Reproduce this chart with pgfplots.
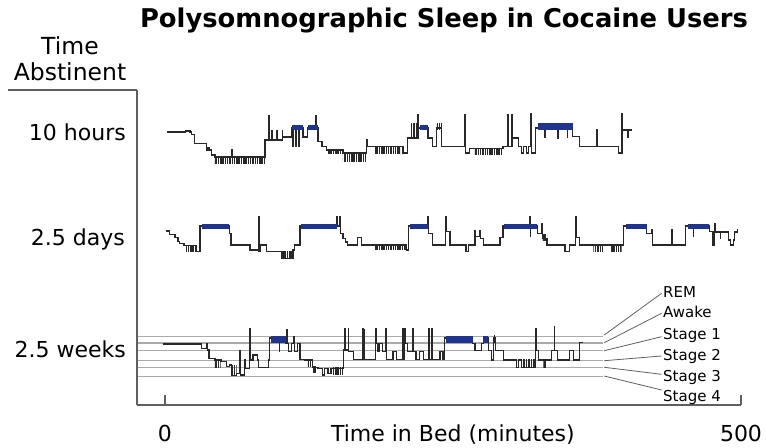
\documentclass[border=0pt]{standalone}
\usepackage{fontspec}
\setmainfont{DejaVu Sans}
\usepackage{pgfplots}
\pgfplotsset{compat=1.18}
\usetikzlibrary{patterns.meta}
\definecolor{remblue}{RGB}{30,52,142}
\definecolor{tracec}{RGB}{40,40,40}
\definecolor{axisgray}{RGB}{95,95,95}
\definecolor{stagegray}{RGB}{170,170,170}
\newcommand{\bigf}{\fontsize{22bp}{24bp}\selectfont}
\newcommand{\smallf}{\fontsize{15bp}{16bp}\selectfont}
\begin{document}
\begin{tikzpicture}
\useasboundingbox (0,0) rectangle (766bp,448bp);
\begin{axis}[
  at={(137bp,43bp)}, anchor=south west,
  scale only axis, width=604bp, height=315bp,
  xmin=-24.3, xmax=500, ymin=-405, ymax=-90,
  axis x line=bottom, axis y line=left,
  axis line style={-, axisgray, line width=1.4bp},
  xtick={0,500}, ytick=\empty,
  tick align=inside, major tick length=10bp,
  xtick style={axisgray, line width=1.1bp},
  xticklabel style={font=\bigf, anchor=base, yshift=-36bp, inner sep=0pt},
  /pgf/number format/assume math mode=true,
  xlabel={Time in Bed (minutes)},
  xlabel style={at={(axis description cs:0.523,0)}, anchor=base, yshift=-36bp, font=\bigf, inner sep=0pt},
  clip=false,
  hyp/.style={const plot, tracec, line width=1.05bp, mark=none},
  remb/.style={draw=none, fill=remblue, mark=none},
  combst/.style={draw=none, mark=none, pattern={Lines[angle=90,distance=2.3bp,line width=1.45bp]}, pattern color=tracec},
  stline/.style={stagegray, line width=1.1bp, mark=none},
]
% stage reference lines (2.5 weeks)
\addplot[stline] coordinates {(-23.4,-336.5) (380.2,-336.5)};
\addplot[stline] coordinates {(-23.4,-343) (380.2,-343)};
\addplot[stline] coordinates {(-23.4,-350.7) (380.2,-350.7)};
\addplot[stline] coordinates {(-23.4,-360.7) (380.2,-360.7)};
\addplot[stline] coordinates {(-23.4,-367.5) (380.2,-367.5)};
\addplot[stline] coordinates {(-23.4,-376.5) (380.2,-376.5)};

% ---------- 10 hours ----------
\addplot[hyp] coordinates {(1.5,-132) (17.4,-131) (21.7,-132) (23.4,-134.3) (26,-143.3) (36.2,-150) (37.3,-148) (38.2,-150) (40.5,-155) (43.4,-157) (57.9,-149.3) (58.5,-157) (86.8,-140) (90.3,-116) (90.8,-140) (92.9,-131) (93.4,-140) (97.2,-131) (97.7,-140) (101.6,-131) (102.1,-137) (110,-128) (111.1,-146.7) (111.6,-128) (113.7,-146.7) (114.2,-128) (116.3,-146.7) (116.8,-128) (119.8,-137) (124.1,-128) (131.1,-116) (131.6,-128) (132.8,-141.7) (136.3,-146.7) (140.6,-150) (154.5,-153) (175.3,-140) (176,-146.7) (206.6,-153) (210.9,-138) (219.6,-115) (220,-128) (228.3,-138) (232.6,-146.7) (236,-128) (240.4,-146.7) (260.4,-115) (261,-153) (264.7,-148.3) (293.4,-146.7) (297.7,-115) (298.2,-146.7) (301.2,-115) (301.7,-138) (307,-146.7) (309.5,-153) (310.8,-146.7) (314,-153) (315.7,-146.7) (317.7,-114) (318.2,-153) (322,-128) (329.8,-137) (330.4,-128) (341.1,-138) (341.8,-128) (349,-137) (349.6,-128) (354.1,-136.7) (360.2,-146.7) (375,-130) (375.5,-146.7) (394,-153) (396.7,-114) (397.2,-130) (401.9,-137) (402.4,-130) (405.4,-130)};
\addplot[combst] coordinates {(43.4,-157) (86.8,-157) (86.8,-163.3) (43.4,-163.3)};
\addplot[combst] coordinates {(141.5,-150) (154.5,-150) (154.5,-153.3) (141.5,-153.3)};
\addplot[combst] coordinates {(154.5,-153) (175.3,-153) (175.3,-161.7) (154.5,-161.7)};
\addplot[combst] coordinates {(182.3,-146.7) (204,-146.7) (204,-153.3) (182.3,-153.3)};
\addplot[combst] coordinates {(212.7,-123) (219.5,-123) (219.5,-138) (212.7,-138)};
\addplot[combst] coordinates {(236,-123) (240.4,-123) (240.4,-130) (236,-130)};
\addplot[combst] coordinates {(269,-148) (293.4,-148) (293.4,-155) (269,-155)};
\addplot[remb] coordinates {(110,-125) (119.8,-125) (119.8,-130) (110,-130)};
\addplot[remb] coordinates {(124.1,-125) (132.8,-125) (132.8,-130) (124.1,-130)};
\addplot[remb] coordinates {(221.4,-125) (228.3,-125) (228.3,-130) (221.4,-130)};
\addplot[remb] coordinates {(323.8,-123) (354.1,-123) (354.1,-130) (323.8,-130)};

% ---------- 2.5 days ----------
\addplot[hyp] coordinates {(0.9,-231) (4.3,-234.3) (8.7,-237.7) (11.3,-241.7) (12.2,-243.3) (16.5,-245.7) (27.5,-251.7) (30.4,-226) (55.6,-233.3) (57.3,-245) (73.8,-250) (81,-216.7) (81.6,-251.7) (83.3,-245) (88.3,-251.7) (101.3,-258.3) (111.1,-250) (112.8,-245) (117.2,-226) (149.1,-216.7) (149.8,-226) (151.3,-216.7) (152,-233.3) (154.5,-238.3) (156.3,-242) (158.1,-245) (167.5,-237.7) (170.7,-245) (209.9,-250) (211.2,-226) (228,-216.7) (228.6,-233.3) (232.6,-245) (243.5,-216.7) (244.2,-231.7) (247.4,-245) (261.3,-251.7) (263.5,-245) (269.1,-231) (269.6,-236.7) (273.4,-231) (274,-238.3) (276.5,-245) (290.8,-237.7) (293.4,-226) (316.8,-216.7) (317.2,-236.7) (317.6,-226) (323.2,-233.3) (327,-223.3) (327.5,-238.3) (331.6,-245) (347.2,-251.7) (351,-245) (356.7,-216.7) (357.2,-237.7) (360.2,-245) (398.1,-226) (418.3,-233.3) (422.5,-230) (423,-245) (439.8,-230) (440.4,-245) (452.2,-226) (458.6,-236.7) (459.1,-226) (472.3,-231.7) (475.7,-245) (477.4,-223.3) (478,-232) (482,-238.3) (482.5,-232) (489.5,-240) (490.5,-245) (493.5,-240) (494,-232) (496.8,-229.3)};
\addplot[combst] coordinates {(17.4,-245.7) (27.5,-245.7) (27.5,-251.7) (17.4,-251.7)};
\addplot[combst] coordinates {(101.3,-251.7) (111.1,-251.7) (111.1,-258.3) (101.3,-258.3)};
\addplot[combst] coordinates {(182.3,-245) (209.9,-245) (209.9,-250) (182.3,-250)};
\addplot[combst] coordinates {(328,-235) (331.6,-235) (331.6,-240.3) (328,-240.3)};
\addplot[combst] coordinates {(371.8,-245) (380.5,-245) (380.5,-251.7) (371.8,-251.7)};
\addplot[combst] coordinates {(386.3,-245) (396.4,-245) (396.4,-251.7) (386.3,-251.7)};
\addplot[remb] coordinates {(31.8,-224) (55.6,-224) (55.6,-229.3) (31.8,-229.3)};
\addplot[remb] coordinates {(118.1,-224) (149.1,-224) (149.1,-229.3) (118.1,-229.3)};
\addplot[remb] coordinates {(212.7,-224) (228,-224) (228,-229.3) (212.7,-229.3)};
\addplot[remb] coordinates {(294.3,-224) (323.2,-224) (323.2,-229.3) (294.3,-229.3)};
\addplot[remb] coordinates {(399.8,-224) (418.3,-224) (418.3,-229.3) (399.8,-229.3)};
\addplot[remb] coordinates {(453.6,-224) (472.3,-224) (472.3,-229.3) (453.6,-229.3)};

% ---------- 2.5 weeks ----------
\addplot[hyp] coordinates {(-2,-344) (31.9,-348.3) (36.2,-343.3) (36.8,-350) (38.2,-358.3) (43.4,-360) (48.6,-361.7) (53.6,-366.7) (56.4,-365) (57.9,-375.7) (62.2,-373.3) (65.1,-350.7) (65.6,-375) (69.4,-360) (70,-368.3) (73.2,-328.3) (73.8,-341.7) (74.6,-360) (76.4,-355) (80.7,-360) (81,-367.3) (89.7,-360) (91.1,-338) (99.2,-351.7) (99.8,-338) (105,-343.3) (105.6,-330) (106.2,-343.3) (107.6,-351.7) (110,-343.3) (112,-336.7) (112.5,-351.7) (115.4,-343.3) (117.2,-359.3) (121.5,-360) (128.2,-367.3) (132.8,-368.3) (137.1,-375) (138.5,-368.3) (141.5,-373.3) (144.1,-368.3) (154.8,-350) (156.2,-328.3) (156.8,-350) (159.1,-328.3) (159.7,-351.7) (163.4,-359.3) (171.6,-328.3) (172.2,-359.3) (172.8,-330) (173.4,-359.3) (183.1,-328.3) (183.7,-343.3) (184.9,-351.7) (186.6,-343.3) (189.2,-351.7) (191.8,-328.3) (192.4,-359.3) (197.9,-351.7) (201.3,-359.3) (206.3,-328.3) (206.9,-359.3) (208.3,-328.3) (208.9,-343.3) (210.9,-351.7) (215,-328.3) (215.6,-351.7) (217.9,-359.3) (221.3,-351.7) (224,-359.3) (228.6,-328.3) (229.2,-359.3) (231.5,-328.3) (232.1,-359.3) (238.7,-351.7) (241.3,-359.3) (243,-338) (267.1,-343.3) (269.1,-350.7) (274.9,-343.3) (276.3,-338) (280.6,-350.7) (283.6,-360) (285,-338) (287.3,-350.7) (293.7,-360) (305.3,-367.3) (307,-360) (309.5,-367.3) (311,-360) (312,-367.3) (321.2,-360) (322,-328.3) (322.6,-350.7) (324,-360) (335.7,-350.7) (337.7,-326.7) (338.3,-350.7) (340.5,-360) (351.5,-350.7) (354.4,-360) (360.2,-342.7) (363.1,-342.7)};
\addplot[combst] coordinates {(43.4,-360) (48.3,-360) (48.3,-367.3) (43.4,-367.3)};
\addplot[combst] coordinates {(57.9,-365.7) (62.2,-365.7) (62.2,-375.7) (57.9,-375.7)};
\addplot[combst] coordinates {(124.1,-360) (128.2,-360) (128.2,-367) (124.1,-367)};
\addplot[combst] coordinates {(128.5,-367) (131.1,-367) (131.1,-373) (128.5,-373)};
\addplot[combst] coordinates {(145.8,-368) (154.8,-368) (154.8,-375) (145.8,-375)};
\addplot[combst] coordinates {(285,-336) (287.3,-336) (287.3,-343) (285,-343)};
\addplot[combst] coordinates {(312,-360) (321.2,-360) (321.2,-367.3) (312,-367.3)};
\addplot[combst] coordinates {(328.4,-360) (331.3,-360) (331.3,-367.3) (328.4,-367.3)};
\addplot[remb] coordinates {(92,-336.5) (105,-336.5) (105,-343) (92,-343)};
\addplot[remb] coordinates {(243.9,-336.5) (267.1,-336.5) (267.1,-343) (243.9,-343)};
\addplot[remb] coordinates {(276.3,-336.5) (280.6,-336.5) (280.6,-343) (276.3,-343)};

% frame piece at top left
\draw[axisgray, line width=1.4bp] (axis cs:-136.3,-90) -- (axis cs:-24.3,-90);
% stage pointers
\draw[axisgray, line width=0.8bp] (axis cs:381.3,-335) -- (axis cs:431.1,-293.3);
\draw[axisgray, line width=0.8bp] (axis cs:381.3,-342.7) -- (axis cs:431.1,-313.3);
\draw[axisgray, line width=0.8bp] (axis cs:381.3,-350.7) -- (axis cs:431.1,-336.7);
\draw[axisgray, line width=0.8bp] (axis cs:381.3,-360.7) -- (axis cs:431.1,-356);
\draw[axisgray, line width=0.8bp] (axis cs:381.3,-367.3) -- (axis cs:431.1,-374.3);
\draw[axisgray, line width=0.8bp] (axis cs:381.3,-376) -- (axis cs:431.1,-390);
\node[anchor=base west, font=\smallf, inner sep=0pt] at (axis cs:432.3,-297.5) {REM};
\node[anchor=base west, font=\smallf, inner sep=0pt] at (axis cs:432.3,-317.5) {Awake};
\node[anchor=base west, font=\smallf, inner sep=0pt] at (axis cs:432.3,-339.5) {Stage 1};
\node[anchor=base west, font=\smallf, inner sep=0pt] at (axis cs:432.3,-361) {Stage 2};
\node[anchor=base west, font=\smallf, inner sep=0pt] at (axis cs:432.3,-381) {Stage 3};
\node[anchor=base west, font=\smallf, inner sep=0pt] at (axis cs:432.3,-401) {Stage 4};
\end{axis}
\node[anchor=base, inner sep=0pt, font=\bfseries\fontsize{25.8bp}{30bp}\selectfont] at (444bp,420bp) {Polysomnographic Sleep in Cocaine Users};
\node[anchor=base, inner sep=0pt, font=\fontsize{23.5bp}{25bp}\selectfont] at (70bp,393bp) {Time};
\node[anchor=base, inner sep=0pt, font=\fontsize{23.5bp}{25bp}\selectfont] at (70bp,367bp) {Abstinent};
\node[anchor=base east, inner sep=0pt, font=\bigf] at (126bp,307bp) {10 hours};
\node[anchor=base east, inner sep=0pt, font=\bigf] at (125bp,202bp) {2.5 days};
\node[anchor=base east, inner sep=0pt, font=\bigf] at (126bp,90bp) {2.5 weeks};
\end{tikzpicture}
\end{document}
